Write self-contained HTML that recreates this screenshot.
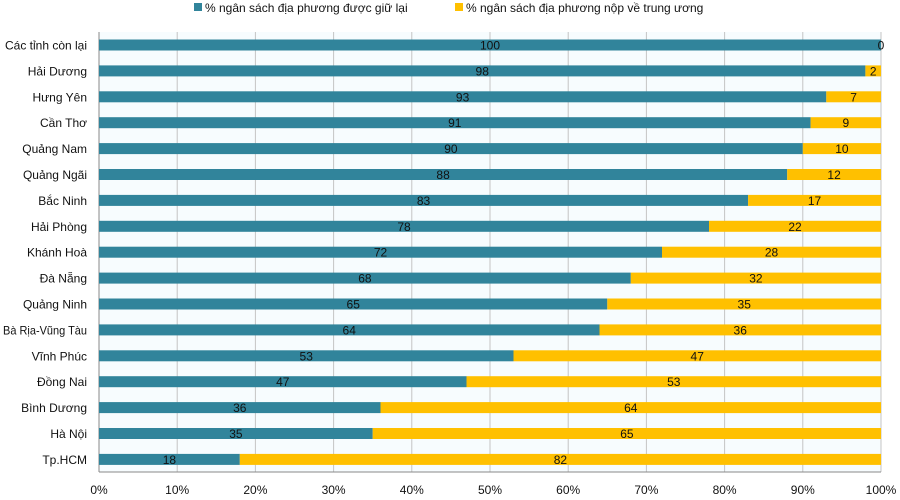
<!DOCTYPE html>
<html><head><meta charset="utf-8"><style>body{margin:0;background:#fff}svg{display:block}text{font-family:"Liberation Sans","DejaVu Sans",sans-serif;font-size:12px;fill:#111}.t{fill:#31849b}.y{fill:#ffc000}.m{text-anchor:middle}.e{text-anchor:end;font-size:12px}</style></head><body>
<svg width="900" height="500" xmlns="http://www.w3.org/2000/svg">
<rect x="99" y="32" width="782" height="440" fill="#f7fcfe"/>
<g stroke="#c4c4c4">
<line x1="177.2" y1="32" x2="177.2" y2="472"/><line x1="255.4" y1="32" x2="255.4" y2="472"/><line x1="333.6" y1="32" x2="333.6" y2="472"/><line x1="411.8" y1="32" x2="411.8" y2="472"/><line x1="490" y1="32" x2="490" y2="472"/><line x1="568.2" y1="32" x2="568.2" y2="472"/><line x1="646.4" y1="32" x2="646.4" y2="472"/><line x1="724.6" y1="32" x2="724.6" y2="472"/><line x1="802.8" y1="32" x2="802.8" y2="472"/><line x1="881" y1="32" x2="881" y2="472"/>
</g>
<line x1="99" y1="472" x2="881" y2="472" stroke="#888"/><line x1="99" y1="32" x2="99" y2="472" stroke="#888"/>
<g fill="#333">
<text class="m" x="99" y="494">0%</text><text class="m" x="177.2" y="494">10%</text><text class="m" x="255.4" y="494">20%</text><text class="m" x="333.6" y="494">30%</text><text class="m" x="411.8" y="494">40%</text><text class="m" x="490" y="494">50%</text><text class="m" x="568.2" y="494">60%</text><text class="m" x="646.4" y="494">70%</text><text class="m" x="724.6" y="494">80%</text><text class="m" x="802.8" y="494">90%</text><text class="m" x="881" y="494">100%</text>
</g>
<g transform="translate(0,45)"><rect class="t" x="99" y="-5.5" width="782" height="11"/><text class="m" x="490" y="4.5">100</text><text class="m" x="881" y="4.5">0</text><text class="e" x="87" y="4.5" textLength="82" lengthAdjust="spacingAndGlyphs">Các tỉnh còn lại</text></g>
<g transform="translate(0,70.9)"><rect class="t" x="99" y="-5.5" width="766.4" height="11"/><rect class="y" x="865.4" y="-5.5" width="15.6" height="11"/><text class="m" x="482.2" y="4.5">98</text><text class="m" x="873.2" y="4.5">2</text><text class="e" x="87" y="4.5">Hải Dương</text></g>
<g transform="translate(0,96.8)"><rect class="t" x="99" y="-5.5" width="727.3" height="11"/><rect class="y" x="826.3" y="-5.5" width="54.7" height="11"/><text class="m" x="462.6" y="4.5">93</text><text class="m" x="853.6" y="4.5">7</text><text class="e" x="87" y="4.5">Hưng Yên</text></g>
<g transform="translate(0,122.7)"><rect class="t" x="99" y="-5.5" width="711.6" height="11"/><rect class="y" x="810.6" y="-5.5" width="70.4" height="11"/><text class="m" x="454.8" y="4.5">91</text><text class="m" x="845.8" y="4.5">9</text><text class="e" x="87" y="4.5">Cần Thơ</text></g>
<g transform="translate(0,148.6)"><rect class="t" x="99" y="-5.5" width="703.8" height="11"/><rect class="y" x="802.8" y="-5.5" width="78.2" height="11"/><text class="m" x="450.9" y="4.5">90</text><text class="m" x="841.9" y="4.5">10</text><text class="e" x="87" y="4.5">Quảng Nam</text></g>
<g transform="translate(0,174.5)"><rect class="t" x="99" y="-5.5" width="688.2" height="11"/><rect class="y" x="787.2" y="-5.5" width="93.8" height="11"/><text class="m" x="443.1" y="4.5">88</text><text class="m" x="834.1" y="4.5">12</text><text class="e" x="87" y="4.5">Quảng Ngãi</text></g>
<g transform="translate(0,200.4)"><rect class="t" x="99" y="-5.5" width="649.1" height="11"/><rect class="y" x="748.1" y="-5.5" width="132.9" height="11"/><text class="m" x="423.5" y="4.5">83</text><text class="m" x="814.5" y="4.5">17</text><text class="e" x="87" y="4.5">Bắc Ninh</text></g>
<g transform="translate(0,226.3)"><rect class="t" x="99" y="-5.5" width="610" height="11"/><rect class="y" x="709" y="-5.5" width="172" height="11"/><text class="m" x="404" y="4.5">78</text><text class="m" x="795" y="4.5">22</text><text class="e" x="87" y="4.5">Hải Phòng</text></g>
<g transform="translate(0,252.2)"><rect class="t" x="99" y="-5.5" width="563" height="11"/><rect class="y" x="662" y="-5.5" width="219" height="11"/><text class="m" x="380.5" y="4.5">72</text><text class="m" x="771.5" y="4.5">28</text><text class="e" x="87" y="4.5">Khánh Hoà</text></g>
<g transform="translate(0,278.1)"><rect class="t" x="99" y="-5.5" width="531.8" height="11"/><rect class="y" x="630.8" y="-5.5" width="250.2" height="11"/><text class="m" x="364.9" y="4.5">68</text><text class="m" x="755.9" y="4.5">32</text><text class="e" x="87" y="4.5">Đà Nẵng</text></g>
<g transform="translate(0,304)"><rect class="t" x="99" y="-5.5" width="508.3" height="11"/><rect class="y" x="607.3" y="-5.5" width="273.7" height="11"/><text class="m" x="353.2" y="4.5">65</text><text class="m" x="744.2" y="4.5">35</text><text class="e" x="87" y="4.5">Quảng Ninh</text></g>
<g transform="translate(0,329.9)"><rect class="t" x="99" y="-5.5" width="500.5" height="11"/><rect class="y" x="599.5" y="-5.5" width="281.5" height="11"/><text class="m" x="349.2" y="4.5">64</text><text class="m" x="740.2" y="4.5">36</text><text class="e" x="87" y="4.5" textLength="84" lengthAdjust="spacingAndGlyphs">Bà Rịa-Vũng Tàu</text></g>
<g transform="translate(0,355.8)"><rect class="t" x="99" y="-5.5" width="414.5" height="11"/><rect class="y" x="513.5" y="-5.5" width="367.5" height="11"/><text class="m" x="306.2" y="4.5">53</text><text class="m" x="697.2" y="4.5">47</text><text class="e" x="87" y="4.5">Vĩnh Phúc</text></g>
<g transform="translate(0,381.7)"><rect class="t" x="99" y="-5.5" width="367.5" height="11"/><rect class="y" x="466.5" y="-5.5" width="414.5" height="11"/><text class="m" x="282.8" y="4.5">47</text><text class="m" x="673.8" y="4.5">53</text><text class="e" x="87" y="4.5">Đồng Nai</text></g>
<g transform="translate(0,407.6)"><rect class="t" x="99" y="-5.5" width="281.5" height="11"/><rect class="y" x="380.5" y="-5.5" width="500.5" height="11"/><text class="m" x="239.8" y="4.5">36</text><text class="m" x="630.8" y="4.5">64</text><text class="e" x="87" y="4.5">Bình Dương</text></g>
<g transform="translate(0,433.5)"><rect class="t" x="99" y="-5.5" width="273.7" height="11"/><rect class="y" x="372.7" y="-5.5" width="508.3" height="11"/><text class="m" x="235.9" y="4.5">35</text><text class="m" x="626.9" y="4.5">65</text><text class="e" x="87" y="4.5">Hà Nội</text></g>
<g transform="translate(0,459.4)"><rect class="t" x="99" y="-5.5" width="140.8" height="11"/><rect class="y" x="239.8" y="-5.5" width="641.2" height="11"/><text class="m" x="169.4" y="4.5">18</text><text class="m" x="560.4" y="4.5">82</text><text class="e" x="87" y="4.5">Tp.HCM</text></g>
<rect class="t" x="194" y="3" width="8" height="8"/><text x="205" y="12">% ngân sách địa phương được giữ lại</text>
<rect class="y" x="455" y="3" width="8" height="8"/><text x="466" y="12">% ngân sách địa phương nộp về trung ương</text>
</svg>
</body></html>
